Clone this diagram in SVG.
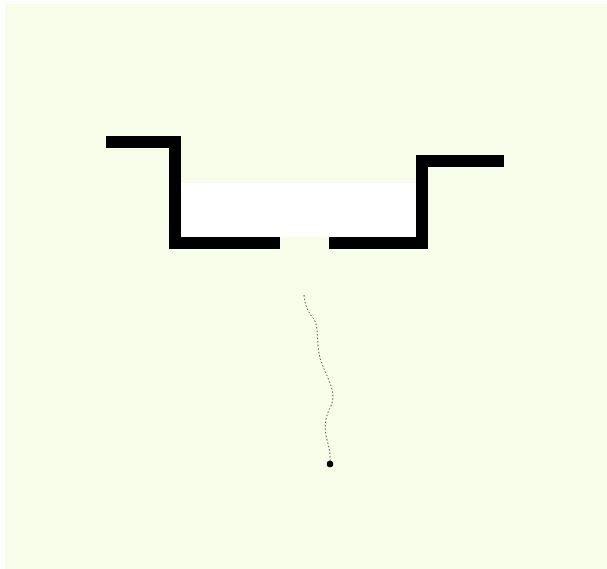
<svg xmlns="http://www.w3.org/2000/svg" width="607" height="569" viewBox="0 0 607 569">
  <style>
    .wall { fill: none; stroke: #000; stroke-width: 12; stroke-linecap: butt; stroke-linejoin: miter; }
    .trail { fill: none; stroke: #333; stroke-width: 0.8; stroke-dasharray: 1.5 2; }
  </style>
  <rect x="0" y="0" width="607" height="569" fill="#ffffff"/>
  <rect x="5" y="4" width="602" height="565" fill="#f7fde8"/>
  <g id="pool">
    <rect x="181" y="183" width="235" height="54" fill="#ffffff"/>
  </g>
  <g id="wall-left">
    <polyline class="wall" points="106,142 175,142 175,243 280,243"/>
  </g>
  <g id="wall-right">
    <polyline class="wall" points="329,243 422,243 422,161 504,161"/>
  </g>
  <g id="connectors">
    <path class="trail" d="M304,295 C305,305 308,312 313,318 C318,324 317,335 318,345 C319,360 324,368 328,378 C333,390 335,398 330,408 C326,416 324,425 326,435 C328,445 331,452 330,464"/>
  </g>
  <g id="dot">
    <circle cx="330" cy="464" r="3.2" fill="#000"/>
  </g>
</svg>
